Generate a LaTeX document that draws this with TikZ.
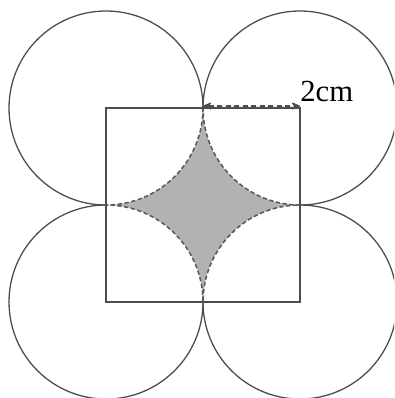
\documentclass[tikz,border=0pt]{standalone}
\usepackage{fontspec}
\setmainfont{Liberation Serif}
\usetikzlibrary{arrows.meta}

\begin{document}
\begin{tikzpicture}[>={Stealth[round, length=6pt, width=5pt]},
  edge/.style={draw=black!70, line width=0.75pt},
  star/.style={fill=gray!60, draw=black!65, dash pattern=on 2.5pt off 1.5pt,
    line width=0.9pt},
  dim/.style={draw=black!70, densely dashed, line width=0.7pt}]
  \useasboundingbox (-4.186,-3.979) rectangle (3.938,4.227);
  \clip (-4.186,-3.979) rectangle (3.938,4.227);
  \coordinate (tl) at (-2,2);
  \coordinate (tr) at (2,2);
  \coordinate (bl) at (-2,-2);
  \coordinate (br) at (2,-2);
  % shaded part inside the square
  \draw[star] (0,2) arc[start angle=0, end angle=-90, radius=2]
    arc[start angle=90, end angle=0, radius=2]
    arc[start angle=180, end angle=90, radius=2]
    arc[start angle=270, end angle=180, radius=2] -- cycle;
  % circles outside the square
  \foreach \c/\s in {tl/0, tr/-90, bl/90, br/180}
    \draw[edge] (\c) ++(\s:2) arc[start angle=\s, delta angle=270, radius=2];
  \draw[edge] (bl) rectangle (tr);
  \coordinate (dimL) at (0,2.04);
  \coordinate (dimR) at (2,2.04);
  \draw[dim, <->, fill=black!70] (dimL) -- (dimR);
  \node[anchor=base west, inner sep=0, font=\fontsize{18}{20}\selectfont]
    (len) at (2.0,2.144) {2cm};
\end{tikzpicture}
\end{document}
